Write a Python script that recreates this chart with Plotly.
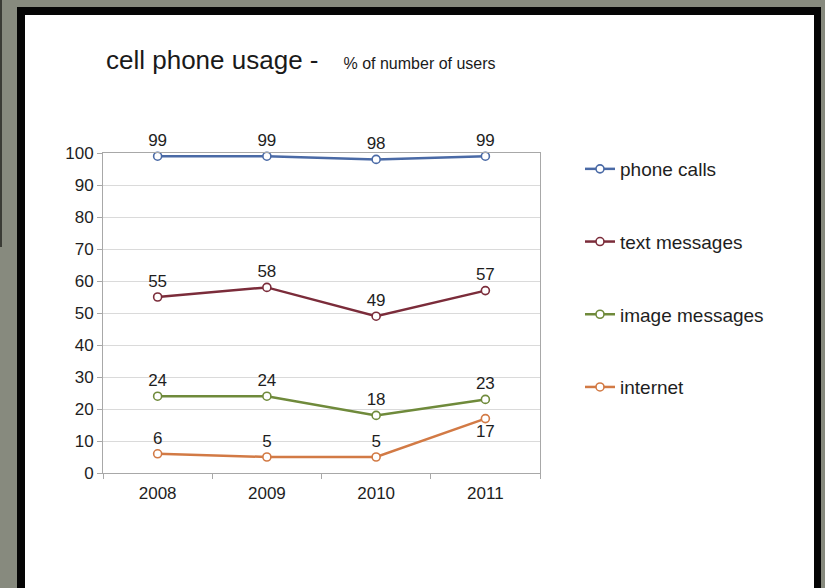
import plotly.graph_objects as go

# ---- data ----
years = ["2008", "2009", "2010", "2011"]
phone_calls = [99, 99, 98, 99]
text_messages = [55, 58, 49, 57]
image_messages = [24, 24, 18, 23]
internet = [6, 5, 5, 17]

series_names = ["phone calls", "text messages", "image messages", "internet"]
series_values = [phone_calls, text_messages, image_messages, internet]
series_colors = ["#4a6aa6", "#7b2c3a", "#6f8a3b", "#d27a45"]
label_positions = [
    ["top center"] * 4,
    ["top center"] * 4,
    ["top center"] * 4,
    ["top center", "top center", "top center", "bottom center"],
]

W, H = 825, 588
ML, MR, MT, MB = 103, 285, 153, 115
PW = W - ML - MR
PH = H - MT - MB


def px(xp):
    return (xp - ML) / PW


def py(yp):
    return (H - MB - yp) / PH


fig = go.Figure()
for i, (name, vals, col, pos) in enumerate(zip(series_names, series_values, series_colors, label_positions)):
    fig.add_trace(go.Scatter(
        x=years, y=vals, name=name, mode="lines+markers+text",
        line=dict(color=col, width=2.5),
        marker=dict(symbol="circle", size=8, color="white", line=dict(color=col, width=1.6)),
        text=[str(v) for v in vals], textposition=pos,
        textfont=dict(family="Liberation Sans, Arial, sans-serif", size=17, color="#1e1e1e"),
        legendgroup=name,
        cliponaxis=False,
    ))

shapes = [
    # dark frame
    dict(type="rect", xref="paper", yref="paper", x0=px(17), x1=px(821), y0=py(620), y1=py(7),
         fillcolor="#050505", line=dict(width=0), layer="below"),
    # white slide
    dict(type="rect", xref="paper", yref="paper", x0=px(25), x1=px(814), y0=py(620), y1=py(15),
         fillcolor="white", line=dict(width=0), layer="below"),
    # edge of slide behind
    dict(type="rect", xref="paper", yref="paper", x0=px(-5), x1=px(2), y0=py(247), y1=py(-5),
         fillcolor="#3a3b35", line=dict(width=0), layer="below"),
]

fig.update_layout(
    width=W, height=H,
    margin=dict(l=ML, r=MR, t=MT, b=MB),
    paper_bgcolor="#878a7e",
    plot_bgcolor="white",
    font=dict(family="Liberation Sans, Arial, sans-serif", color="#1e1e1e"),
    shapes=shapes,
    showlegend=True,
    legend=dict(
        x=px(580), y=py(150), xanchor="left", yanchor="top",
        font=dict(size=19, color="#1e1e1e"),
        tracegroupgap=45, itemwidth=30, bgcolor="rgba(0,0,0,0)",
    ),
    annotations=[
        dict(xref="paper", yref="paper", x=px(104), y=py(60), xanchor="left", yanchor="middle",
             showarrow=False,
             text="cell phone usage - <span style='font-size:16px'>&nbsp;&nbsp;&nbsp;&nbsp;% of number of users</span>",
             font=dict(size=26, color="#1a1a1a")),
    ],
)

fig.update_xaxes(
    type="category", range=[-0.5, 3.5],
    showgrid=False, showline=True, linecolor="#a8a8a8", linewidth=1, mirror=True,
    ticks="outside", tickson="boundaries", ticklen=5, tickcolor="#a8a8a8",
    tickfont=dict(size=17, color="#1e1e1e"), ticklabelstandoff=5,
)
fig.update_yaxes(
    range=[0, 100], dtick=10, tick0=0,
    showgrid=True, gridcolor="#dadada", gridwidth=1,
    showline=True, linecolor="#a8a8a8", linewidth=1, mirror=True,
    ticks="outside", ticklen=5, tickcolor="#a8a8a8",
    tickfont=dict(size=17, color="#1e1e1e"),
    zeroline=False,
)

fig.write_html(
    "out.html",
    config={"displayModeBar": False},
    post_script="document.body.style.margin='0';document.body.style.overflow='hidden';",
)
